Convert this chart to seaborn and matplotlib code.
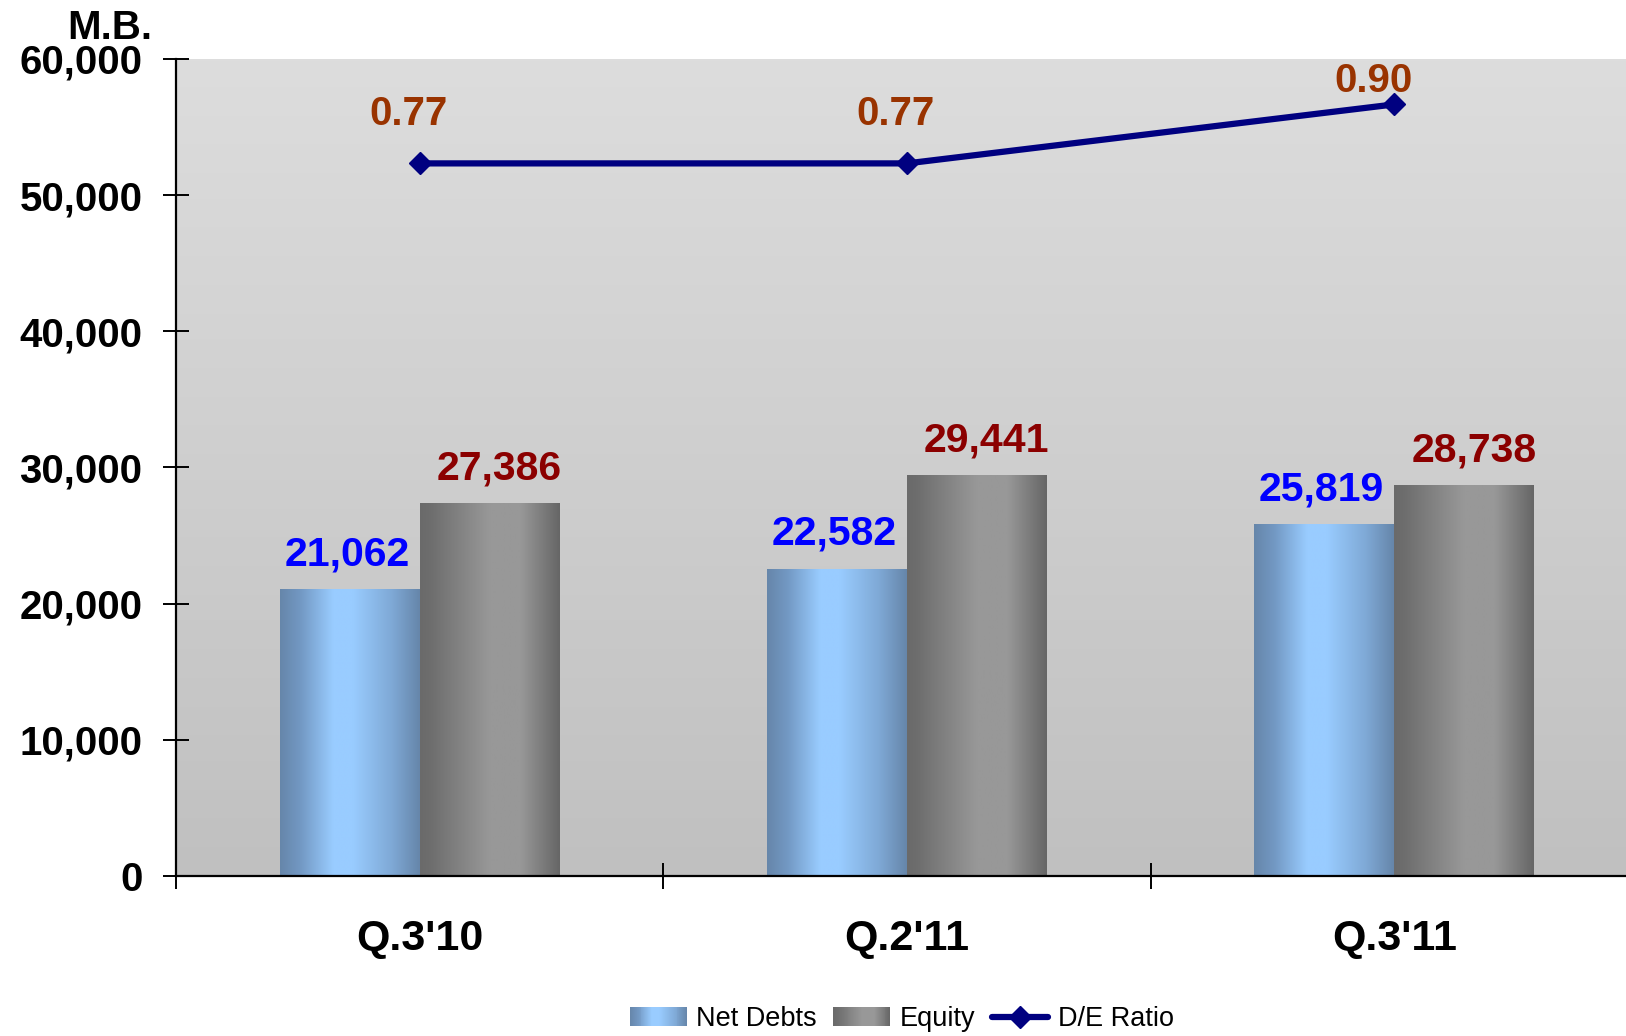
import numpy as np
import pandas as pd
import matplotlib
matplotlib.use("Agg")
import matplotlib.pyplot as plt
import seaborn as sns
from matplotlib.colors import LinearSegmentedColormap
from matplotlib.patches import Rectangle, Patch
from matplotlib.lines import Line2D
from matplotlib.legend_handler import HandlerBase
from matplotlib.ticker import FuncFormatter

# ---------------- data ----------------
quarters = ["Q.3'10", "Q.2'11", "Q.3'11"]
net_debts = [21062, 22582, 25819]
equity = [27386, 29441, 28738]
de_ratio = [0.77, 0.77, 0.90]
series_names = ["Net Debts", "Equity"]
y_ticks = [0, 10000, 20000, 30000, 40000, 50000, 60000]

# ---------------- style ----------------
sns.set_theme(style="white")
plt.rcParams["font.family"] = ["Liberation Sans", "DejaVu Sans"]
plt.rcParams["text.color"] = "black"
plt.rcParams["xtick.color"] = "black"
plt.rcParams["ytick.color"] = "black"

blue_cmap = LinearSegmentedColormap.from_list(
    "blue", [(0, "#6686AA"), (0.15, "#7399C4"), (0.38, "#99CCFF"),
             (0.52, "#99CCFF"), (0.8, "#7FA9D6"), (1, "#6686AA")])
gray_cmap = LinearSegmentedColormap.from_list(
    "gray", [(0, "#6A6A6A"), (0.08, "#6E6E6E"), (0.5, "#989898"),
             (0.72, "#989898"), (1, "#666666")])
bg_cmap = LinearSegmentedColormap.from_list("bg", ["#C0C0C0", "#DDDDDD"])

df = pd.DataFrame({
    "quarter": quarters * 2,
    "series": [series_names[0]] * 3 + [series_names[1]] * 3,
    "value": net_debts + equity,
})

fig = plt.figure(figsize=(16.26, 10.36), dpi=100)
ax = fig.add_axes([176 / 1626, 1 - 876 / 1036, (1638 - 176) / 1626, (876 - 59) / 1036])

sns.barplot(data=df, x="quarter", y="value", hue="series",
            palette=["#99CCFF", "#999999"], width=0.574, saturation=1,
            legend=False, ax=ax, zorder=2, linewidth=0, edgecolor="none")

# background gradient
ax.imshow(np.linspace(0, 1, 256)[:, None][::-1], cmap=bg_cmap, aspect="auto",
          extent=[0, 1, 0, 1], transform=ax.transAxes, zorder=0)

# gradient fills for bars
for cont, cmap in zip(ax.containers, [blue_cmap, gray_cmap]):
    for p in cont:
        x0, y0 = p.get_x(), p.get_y()
        w, h = p.get_width(), p.get_height()
        im = ax.imshow(np.linspace(0, 1, 256)[None, :], cmap=cmap, aspect="auto",
                       extent=[x0, x0 + w, y0, y0 + h], zorder=2.5,
                       interpolation="bilinear")
        im.set_clip_path(p)

ax.set_xlim(-0.5, 2.5)
ax.set_ylim(0, 60000)

# value labels
label_colors = ["#0000FF", "#8B0000"]
for cont, col, dx in zip(ax.containers, label_colors, [-2, 7]):
    for p in cont:
        ax.annotate(f"{p.get_height():,.0f}", (p.get_x() + p.get_width() / 2, p.get_height()),
                    xytext=(dx, 17), textcoords="offset points", ha="center", va="baseline",
                    fontsize=29.5, fontweight="bold", color=col, zorder=5)

# axes styling
for s in ["top", "right"]:
    ax.spines[s].set_visible(False)
for s in ["left", "bottom"]:
    ax.spines[s].set_color("black")
    ax.spines[s].set_linewidth(1.6)
    ax.spines[s].set_zorder(4)

ax.set_yticks(y_ticks)
ax.yaxis.set_major_formatter(FuncFormatter(lambda v, _: f"{v:,.0f}"))
ax.tick_params(axis="y", direction="inout", length=18.5, width=1.4, color="black",
               labelcolor="black", pad=15, labelsize=29, left=True)
for t in ax.get_yticklabels():
    t.set_fontweight("bold")

ax.set_xticks([-0.5, 0.5, 1.5, 2.5])
ax.set_xticklabels([])
ax.set_xticks(range(len(quarters)), minor=True)
ax.set_xticklabels(quarters, minor=True)
ax.tick_params(axis="x", which="major", direction="inout", length=18.5, width=1.4,
               color="black", bottom=True)
ax.tick_params(axis="x", which="minor", length=0, pad=31, labelsize=31,
               labelcolor="black", bottom=True)
for t in ax.get_xticklabels(minor=True):
    t.set_fontweight("bold")
ax.set_xlabel("")
ax.set_ylabel("")

# D/E ratio on secondary axis
ax2 = ax.twinx()
sns.lineplot(x=np.arange(len(quarters)), y=de_ratio, ax=ax2, color="#000080",
             linewidth=4.5, marker="D", markersize=11, markeredgecolor="#000080",
             markeredgewidth=1, zorder=6)
ax2.set_ylim(-0.8, 1.0)
ax2.set_xlim(-0.5, 2.5)
ax2.axis("off")

# ratio labels (pushed down if they would leave the plot area)
for i, r in enumerate(de_ratio):
    disp = ax2.transData.transform((i, r))
    top = ax2.transAxes.transform((0, 1))[1]
    room_pt = (top - disp[1]) * 72 / fig.dpi
    dy = min(28, room_pt - 24)
    dx = -8 if dy >= 28 else -15
    ax2.annotate(f"{r:.2f}", (i, r), xytext=(dx, dy), textcoords="offset points",
                 ha="center", va="baseline", fontsize=29, fontweight="bold",
                 color="#993300", zorder=7, annotation_clip=False)

# unit label
fig.text(152 / 1626, 1 - 39 / 1036, "M.B.", ha="right", va="baseline",
         fontsize=29, fontweight="bold", color="black")


# legend with gradient patches
class GradientHandler(HandlerBase):
    def __init__(self, cmap, n=60):
        super().__init__()
        self.cmap = cmap
        self.n = n

    def create_artists(self, legend, orig_handle, xdescent, ydescent, width, height,
                       fontsize, trans):
        arts = []
        for k in range(self.n):
            arts.append(Rectangle((-xdescent + width * k / self.n, -ydescent),
                                  width / self.n * 1.05, height,
                                  facecolor=self.cmap((k + 0.5) / self.n),
                                  edgecolor="none", transform=trans))
        return arts


h_net = Patch(label=series_names[0])
h_eq = Patch(label=series_names[1])
h_de = Line2D([], [], color="#000080", linewidth=4.5, marker="D", markersize=11,
              label="D/E Ratio")
fig.legend(handles=[h_net, h_eq, h_de], loc="center",
           bbox_to_anchor=(902 / 1626, 1 - 1019 / 1036), ncol=3, frameon=False,
           fontsize=19.5, handlelength=2.1, handletextpad=0.35, columnspacing=0.6,
           labelcolor="black",
           handler_map={h_net: GradientHandler(blue_cmap), h_eq: GradientHandler(gray_cmap)})

fig.savefig("out.png", dpi=100)
